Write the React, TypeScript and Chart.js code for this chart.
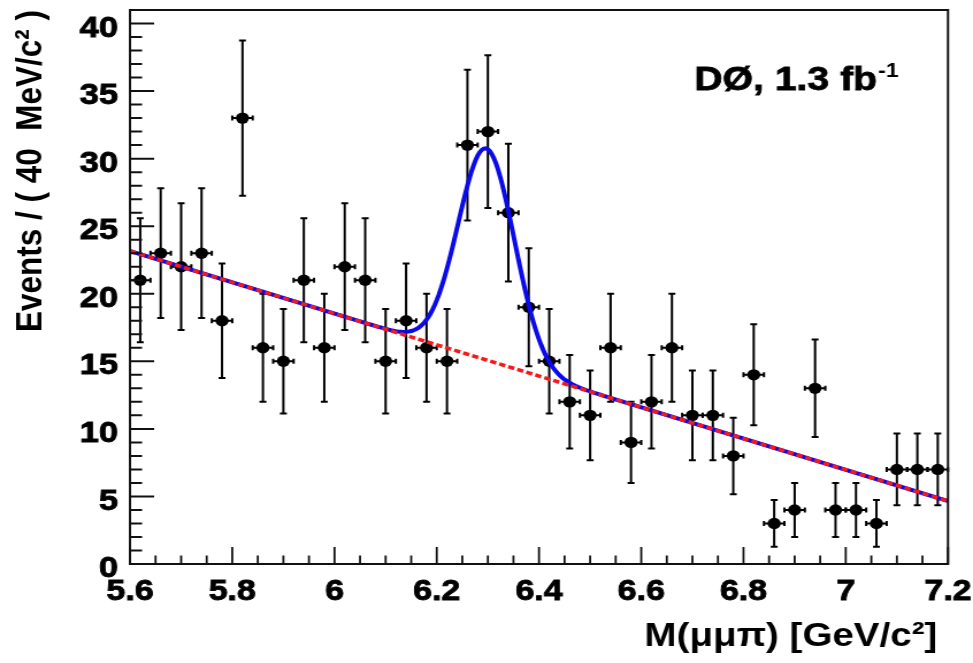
import React, { useEffect, useRef } from "react";
import { Chart, registerables } from "chart.js";

Chart.register(...registerables);

// ---- data ----
const binCenters = [
  5.62, 5.66, 5.70, 5.74, 5.78, 5.82, 5.86, 5.90, 5.94, 5.98,
  6.02, 6.06, 6.10, 6.14, 6.18, 6.22, 6.26, 6.30, 6.34, 6.38,
  6.42, 6.46, 6.50, 6.54, 6.58, 6.62, 6.66, 6.70, 6.74, 6.78,
  6.82, 6.86, 6.90, 6.94, 6.98, 7.02, 7.06, 7.10, 7.14, 7.18,
];
const eventCounts = [
  21, 23, 22, 23, 18, 33, 16, 15, 21, 16,
  22, 21, 15, 18, 16, 15, 31, 32, 26, 19,
  15, 12, 11, 16, 9, 12, 16, 11, 11, 8,
  14, 3, 4, 13, 4, 4, 3, 7, 7, 7,
];
const eventErrors = [
  4.58, 4.80, 4.69, 4.80, 4.24, 5.74, 4.00, 3.87, 4.58, 4.00,
  4.69, 4.58, 3.87, 4.24, 4.00, 3.87, 5.57, 5.66, 5.10, 4.36,
  3.87, 3.46, 3.32, 4.00, 3.00, 3.46, 4.00, 3.32, 3.32, 2.83,
  3.74, 1.73, 2.00, 3.61, 2.00, 2.00, 1.73, 2.65, 2.65, 2.65,
];
const binHalfWidth = 0.02;

const xTickValues = [5.6, 5.8, 6.0, 6.2, 6.4, 6.6, 6.8, 7.0, 7.2];
const xTickLabels = ["5.6", "5.8", "6", "6.2", "6.4", "6.6", "6.8", "7", "7.2"];
const yTickValues = [0, 5, 10, 15, 20, 25, 30, 35, 40];
const yTickLabels = ["0", "5", "10", "15", "20", "25", "30", "35", "40"];

// fitted background (straight line, end points)
const bkgLineX = [5.6, 7.2];
const bkgLineY = [23.16, 4.66];
// fitted signal peak (gaussian parameters)
const peakMean = 6.297;
const peakSigma = 0.055;
const peakHeight = 15.65;

const X_MIN = 5.6;
const X_MAX = 7.2;
const Y_MIN = 0;
const Y_MAX = 41;

// ---- styling ----
const FONT = '"Liberation Sans", Arial, Helvetica, sans-serif';
const BLUE = "rgb(10, 10, 235)";
const RED = "rgb(245, 25, 25)";
const W = 846; // canvas drawing width
const H = 663;
const STRETCH = 973 / W;

function bkgAt(m: number) {
  return bkgLineY[0] + ((bkgLineY[1] - bkgLineY[0]) * (m - bkgLineX[0])) / (bkgLineX[1] - bkgLineX[0]);
}
function totalFitAt(m: number) {
  const d = (m - peakMean) / peakSigma;
  return bkgAt(m) + peakHeight * Math.exp(-0.5 * d * d);
}

const errorBarPlugin = {
  id: "errorBars",
  beforeDatasetsDraw(chart: any) {
    const { ctx, scales } = chart;
    const xs = scales.x;
    const ys = scales.y;
    ctx.save();
    ctx.strokeStyle = "#000";
    ctx.lineWidth = 2;
    for (let i = 0; i < binCenters.length; i++) {
      const xc = binCenters[i];
      const n = eventCounts[i];
      const e = eventErrors[i];
      const px = xs.getPixelForValue(xc);
      const py = ys.getPixelForValue(n);
      const pTop = ys.getPixelForValue(n + e);
      const pBot = ys.getPixelForValue(n - e);
      const pL = xs.getPixelForValue(xc - binHalfWidth);
      const pR = xs.getPixelForValue(xc + binHalfWidth);
      ctx.beginPath();
      ctx.moveTo(px, pTop);
      ctx.lineTo(px, pBot);
      ctx.moveTo(px - 3, pTop);
      ctx.lineTo(px + 3, pTop);
      ctx.moveTo(px - 3, pBot);
      ctx.lineTo(px + 3, pBot);
      ctx.moveTo(pL, py);
      ctx.lineTo(pR, py);
      ctx.moveTo(pL, py - 2.5);
      ctx.lineTo(pL, py + 2.5);
      ctx.moveTo(pR, py - 2.5);
      ctx.lineTo(pR, py + 2.5);
      ctx.stroke();
    }
    ctx.restore();
  },
};

const framePlugin = {
  id: "rootFrame",
  afterDraw(chart: any) {
    const { ctx, chartArea, scales } = chart;
    const xs = scales.x;
    const ys = scales.y;
    const { left, right, top, bottom } = chartArea;
    ctx.save();
    ctx.strokeStyle = "#111";
    ctx.lineWidth = 2;
    ctx.strokeRect(left, top, right - left, bottom - top);

    // x ticks (inside, bottom edge)
    ctx.lineWidth = 1.8;
    ctx.beginPath();
    for (let k = 0; k <= 32; k++) {
      const v = X_MIN + k * 0.05;
      const p = xs.getPixelForValue(v);
      const len = k % 4 === 0 ? 17 : 8.5;
      ctx.moveTo(p, bottom);
      ctx.lineTo(p, bottom - len);
    }
    ctx.stroke();

    // y ticks (inside, left edge)
    ctx.lineWidth = 2;
    ctx.beginPath();
    for (let v = 0; v <= 41; v++) {
      const p = ys.getPixelForValue(v);
      const len = v % 5 === 0 ? 21 : 10.5;
      ctx.moveTo(left, p);
      ctx.lineTo(left + len, p);
    }
    ctx.stroke();

    // experiment label
    const tx = left + (right - left) * 0.69;
    const ty = top + 80;
    ctx.fillStyle = "#000";
    ctx.strokeStyle = "#000";
    ctx.lineWidth = 0.8;
    ctx.textBaseline = "alphabetic";
    ctx.textAlign = "left";
    ctx.font = `bold 34px ${FONT}`;
    const main = "DØ, 1.3 fb";
    ctx.fillText(main, tx, ty);
    ctx.strokeText(main, tx, ty);
    const w = ctx.measureText(main).width;
    ctx.font = `bold 20px ${FONT}`;
    ctx.fillText("-1", tx + w + 1, ty - 13);
    ctx.restore();
  },
};

export default function App() {
  const canvasRef = useRef<HTMLCanvasElement | null>(null);

  useEffect(() => {
    const canvas = canvasRef.current;
    if (!canvas) return;

    const dataPoints = binCenters.map((x, i) => ({ x, y: eventCounts[i] }));
    const bkgPoints = bkgLineX.map((x, i) => ({ x, y: bkgLineY[i] }));
    const fitPoints: { x: number; y: number }[] = [];
    for (let k = 0; k <= 400; k++) {
      const m = X_MIN + (k * (X_MAX - X_MIN)) / 400;
      fitPoints.push({ x: m, y: totalFitAt(m) });
    }

    const chart = new Chart(canvas, {
      type: "scatter",
      data: {
        datasets: [
          {
            type: "line",
            label: "Background",
            data: bkgPoints,
            borderColor: RED,
            borderWidth: 3.6,
            borderDash: [5.5, 2.8],
            pointRadius: 0,
            fill: false,
            order: 1,
          } as any,
          {
            type: "line",
            label: "Signal + background",
            data: fitPoints,
            borderColor: BLUE,
            borderWidth: 4,
            pointRadius: 0,
            fill: false,
            tension: 0,
            order: 2,
          } as any,
          {
            label: "Data",
            data: dataPoints,
            pointRadius: 5.7,
            pointHoverRadius: 5.7,
            backgroundColor: "#000",
            borderColor: "#000",
            borderWidth: 0,
            order: 3,
          },
        ],
      },
      options: {
        responsive: false,
        animation: false,
        events: [],
        layout: { padding: { left: 0, right: W - 948 / STRETCH, top: 10, bottom: 0 } },
        plugins: {
          legend: { display: false },
          tooltip: { enabled: false },
        },
        scales: {
          x: {
            type: "linear",
            min: X_MIN,
            max: X_MAX,
            grid: { display: false, drawTicks: false },
            border: { display: false },
            afterBuildTicks: (s: any) => {
              s.ticks = xTickValues.map((v) => ({ value: v }));
            },
            ticks: {
              autoSkip: false,
              maxRotation: 0,
              padding: 10.3,
              color: "#000",
              textStrokeColor: "#000",
              textStrokeWidth: 0.9,
              font: { family: FONT, size: 29.5, weight: "bold", lineHeight: 1.2 },
              callback: (_v: any, i: number) => xTickLabels[i],
            },
            title: {
              display: true,
              text: "M(μμπ) [GeV/c²] ",
              align: "end",
              color: "#000",
              font: { family: FONT, size: 33.5, weight: "bold", lineHeight: 1.2 },
              padding: { top: 0, bottom: 6.5 },
            },
            afterFit: (s: any) => {
              s.height = H - 564;
              s.paddingLeft = 0;
              s.paddingRight = 0;
            },
          },
          y: {
            type: "linear",
            min: Y_MIN,
            max: Y_MAX,
            grid: { display: false, drawTicks: false },
            border: { display: false },
            afterBuildTicks: (s: any) => {
              s.ticks = yTickValues.map((v) => ({ value: v }));
            },
            ticks: {
              autoSkip: false,
              padding: 10.3,
              labelOffset: 4.8,
              color: "#000",
              textStrokeColor: "#000",
              textStrokeWidth: 0.9,
              font: { family: FONT, size: 30, weight: "bold", lineHeight: 1.2 },
              callback: (_v: any, i: number) => yTickLabels[i],
            },
            title: {
              display: true,
              text: "Events / ( 40  MeV/c² )",
              align: "end",
              color: "#000",
              font: { family: FONT, size: 31.5, weight: "bold", lineHeight: 1.2 },
              padding: { top: 8, bottom: 0 },
            },
            afterFit: (s: any) => {
              s.width = 130 / STRETCH;
              s.paddingTop = 0;
              s.paddingBottom = 0;
            },
          },
        },
      },
      plugins: [errorBarPlugin, framePlugin],
    } as any);

    return () => chart.destroy();
  }, []);

  return (
    <div
      style={{
        position: "fixed",
        left: 0,
        top: 0,
        width: 973,
        height: 663,
        overflow: "hidden",
        background: "#fff",
      }}
    >
      <canvas
        ref={canvasRef}
        width={W}
        height={H}
        style={{
          display: "block",
          width: W,
          height: H,
          transform: `scaleX(${STRETCH})`,
          transformOrigin: "0 0",
        }}
      />
    </div>
  );
}
